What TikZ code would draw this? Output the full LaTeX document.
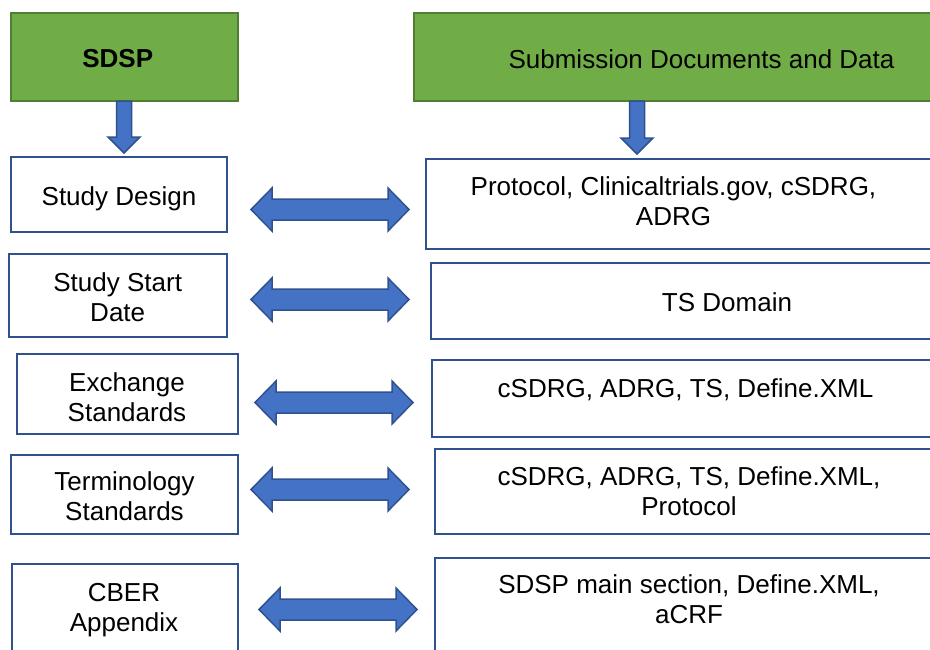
\documentclass[tikz,border=0pt]{standalone}
\usepackage{fontspec}
\setmainfont{Liberation Sans}
\usetikzlibrary{calc}
\definecolor{boxblue}{HTML}{2F528F}
\definecolor{arrfill}{HTML}{4472C4}
\definecolor{arrline}{HTML}{2F528F}
\definecolor{hdrfill}{HTML}{70AD47}
\definecolor{hdrline}{HTML}{507E32}
\newcommand{\twoline}[1]{\begin{tabular}[t]{@{}c@{}}#1\end{tabular}}
\newcommand{\blockdbl}[2]{%
  \filldraw[blockarr] (#1) -- ($(#1)+(21,-21.5)$) -- ($(#1)+(21,-10.5)$)
    -- ($(#2)+(-21,-10.5)$) -- ($(#2)+(-21,-21.5)$) -- (#2)
    -- ($(#2)+(-21,21.5)$) -- ($(#2)+(-21,10.5)$)
    -- ($(#1)+(21,10.5)$) -- ($(#1)+(21,21.5)$) -- cycle;}
\newcommand{\blockdown}[2]{%
  \filldraw[blockarr] ($(#1)+(-7.5,0)$) -- ($(#2)+(-7.5,-16)$) -- ($(#2)+(-16,-16)$)
    -- (#2) -- ($(#2)+(16,-16)$) -- ($(#2)+(7.5,-16)$) -- ($(#1)+(7.5,0)$) -- cycle;}
\tikzset{
  every node/.style={inner sep=0pt, outer sep=0pt},
  hdrbox/.style={draw=hdrline, fill=hdrfill, line width=2pt, rectangle},
  itembox/.style={draw=boxblue, fill=white, line width=2.5pt, rectangle},
  lbl/.style={font=\fontsize{26}{30}\selectfont, anchor=base, text=black},
  blockarr/.style={fill=arrfill, draw=arrline, line width=1.5pt, line join=miter},
}
\begin{document}
\begin{tikzpicture}[x=1pt,y=-1pt]
\useasboundingbox (0,0) rectangle (930,649);
\clip (0,0) rectangle (930,649);
\fill[white] (0,0) rectangle (930,649);
% headers
\node[hdrbox, minimum width=227, minimum height=88] (sdsp) at (124.5,57) {};
\node[hdrbox, minimum width=526, minimum height=88] (subm) at (677,57) {};
\node[lbl] (sdspt) at (117.7,67.7) {\bfseries SDSP};
\node[lbl] (submt) at (701.5,68.3) {Submission Documents and Data};
% left boxes
\node[itembox, minimum width=216, minimum height=75] (l1) at (119,194.5) {};
\node[itembox, minimum width=218, minimum height=83] (l2) at (118,295.5) {};
\node[itembox, minimum width=221, minimum height=80] (l3) at (127.5,394) {};
\node[itembox, minimum width=227, minimum height=79] (l4) at (124.5,494.5) {};
\node[itembox, minimum width=226, minimum height=88] (l5) at (125,608) {};
% right boxes
\node[itembox, minimum width=514, minimum height=90] (r1) at (683,204) {};
\node[itembox, minimum width=509, minimum height=76] (r2) at (685.5,301) {};
\node[itembox, minimum width=508, minimum height=77] (r3) at (686,398.5) {};
\node[itembox, minimum width=505, minimum height=85] (r4) at (687.5,491.5) {};
\node[itembox, minimum width=505, minimum height=110] (r5) at (687.5,613) {};
% labels
\node[lbl] (l1t) at (119,205) {Study Design};
\node[lbl] (l2t) at (117.7,291) {\twoline{Study Start\\Date}};
\node[lbl] (l3t) at (127,391) {\twoline{Exchange\\Standards}};
\node[lbl] (l4t) at (124.5,490.7) {\twoline{Terminology\\Standards}};
\node[lbl] (l5t) at (124,601) {\twoline{CBER\\Appendix}};
\node[lbl] (r1t) at (673.5,195) {\twoline{Protocol, Clinicaltrials.gov, cSDRG,\\ADRG}};
\node[lbl] (r2t) at (727,311) {TS Domain};
\node[lbl] (r3t) at (685.5,397) {cSDRG, ADRG, TS, Define.XML};
\node[lbl] (r4t) at (689,485) {\twoline{cSDRG, ADRG, TS, Define.XML,\\Protocol}};
\node[lbl] (r5t) at (689,593) {\twoline{SDSP main section, Define.XML,\\aCRF}};
% down arrows
\coordinate (d1s) at (124,101);
\coordinate (d1e) at (124,153);
\coordinate (d2s) at (637,101);
\coordinate (d2e) at (637,154);
\blockdown{d1s}{d1e}
\blockdown{d2s}{d2e}
% double arrows
\coordinate (a1l) at (251,209.5); \coordinate (a1r) at (409,209.5);
\coordinate (a2l) at (251,299.5); \coordinate (a2r) at (409,299.5);
\coordinate (a3l) at (255,402.5); \coordinate (a3r) at (413,402.5);
\coordinate (a4l) at (251,489.5); \coordinate (a4r) at (409,489.5);
\coordinate (a5l) at (259,609.5); \coordinate (a5r) at (417,609.5);
\blockdbl{a1l}{a1r}
\blockdbl{a2l}{a2r}
\blockdbl{a3l}{a3r}
\blockdbl{a4l}{a4r}
\blockdbl{a5l}{a5r}
\end{tikzpicture}
\end{document}
